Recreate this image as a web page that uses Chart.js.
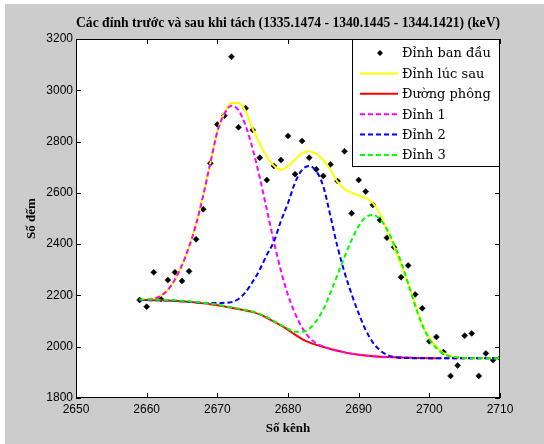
<!DOCTYPE html>
<html><head><meta charset="utf-8">
<script src="https://cdn.jsdelivr.net/npm/chart.js@4"></script>
<style>html,body{margin:0;padding:0;background:#fff;overflow:hidden}#wrap{width:544px;height:444px}</style>
</head><body><div id="wrap"><canvas id="c" width="544" height="444"></canvas></div>
<script>
const chartTitle = 'Các đỉnh trước và sau khi tách (1335.1474 - 1340.1445 - 1344.1421) (keV)';
const xAxisTitle = 'Số kênh';
const yAxisTitle = 'Số đếm';
const seriesNames = ['Đỉnh ban đầu', 'Đỉnh lúc sau', 'Đường phông', 'Đỉnh 1', 'Đỉnh 2', 'Đỉnh 3'];

const channels = [2659,2660,2661,2662,2663,2664,2665,2666,2667,2668,
  2669,2670,2671,2672,2673,2674,2675,2676,2677,2678,
  2679,2680,2681,2682,2683,2684,2685,2686,2687,2688,
  2689,2690,2691,2692,2693,2694,2695,2696,2697,2698,
  2699,2700,2701,2702,2703,2704,2705,2706,2707,2708,
  2709,2710];
const counts = [2182,2156,2290,2186,2260,2290,2256,2294,2419,2536,
  2715,2867,2901,3131,2856,2930,2845,2737,2650,2705,
  2728,2822,2673,2802,2737,2692,2666,2711,2646,2762,
  2520,2650,2605,2553,2494,2425,2388,2271,2317,2204,
  2150,2021,2038,1979,1886,1927,2043,2052,1886,1974,
  1948,1955];
const totalFit = [2182,2184,2188,2200,2222,2260,2320,2390,2478,2590,
  2715,2840,2912,2950,2950,2918,2850,2792,2742,2706,
  2690,2704,2730,2755,2762,2752,2728,2690,2643,2615,
  2601,2590,2580,2560,2520,2455,2390,2320,2247,2165,
  2085,2035,2000,1975,1964,1959,1957,1956,1955,1955,
  1955,1955];
const bgChannels = [2659,2660,2661,2662,2663,2664,2665,2666,2667,2668,
  2669,2670,2671,2672,2673,2674,2675,2676,2677,2678,
  2679,2680,2681,2682,2683,2684,2685,2686,2687,2688,
  2689,2690,2691,2692,2693,2694,2695,2696,2697,2698,
  2699,2700,2701];
const background = [2182,2182,2181,2181,2180,2179,2177,2175,2172,2169,
  2166,2162,2157,2152,2147,2141,2135,2126,2113,2098,
  2083,2066,2047,2030,2017,2007,1999,1991,1984,1978,
  1973,1969,1966,1963,1961,1960,1959,1958,1957,1956,
  1956,1955,1955];
const peak1 = [2182,2183,2187,2198,2222,2262,2318,2390,2478,2590,
  2715,2838,2908,2940,2922,2862,2772,2660,2535,2410,
  2296,2202,2130,2074,2036,2013,2001,1992,1984,1978,
  1973,1969,1966,1963,1961,1960,1959,1958,1957,1956,
  1956,1955,1955,1955,1955,1955,1955,1955,1955,1955,
  1955,1955];
const peak2 = [2182,2182,2181,2181,2180,2179,2177,2175,2173,2171,
  2170,2170,2171,2174,2186,2213,2253,2300,2358,2410,
  2490,2560,2640,2690,2705,2685,2625,2510,2390,2290,
  2205,2130,2065,2017,1986,1968,1960,1957,1956,1955,
  1955,1955,1955,1955,1955,1955,1955,1955,1955,1955,
  1955,1955];
const peak3 = [2184,2184,2183,2183,2182,2181,2179,2177,2174,2171,
  2168,2164,2159,2154,2149,2143,2137,2128,2115,2100,
  2085,2070,2058,2058,2070,2100,2145,2210,2280,2350,
  2416,2470,2505,2514,2498,2458,2400,2330,2247,2160,
  2085,2030,1995,1972,1962,1958,1956,1955,1955,1955,
  1955,1955];
const xTicks = [2650,2660,2670,2680,2690,2700,2710];
const yTicks = [1800,2000,2200,2400,2600,2800,3000,3200];

const pts = (xs, ys) => xs.map((v, i) => ({x: v, y: ys[i]}));

const lineDs = (label, xs, ys, color, dash, order) => ({
  label, data: pts(xs, ys), borderColor: color, backgroundColor: color,
  borderWidth: 2, borderDash: dash, pointRadius: 0, showLine: true,
  cubicInterpolationMode: 'monotone', fill: false, order
});

const framePlugin = {
  id: 'frame',
  beforeDraw(chart) {
    const ctx = chart.ctx, a = chart.chartArea;
    ctx.save();
    ctx.fillStyle = '#ffffff';
    ctx.fillRect(0, 0, chart.width, chart.height);
    ctx.fillStyle = '#cccccc';
    ctx.fillRect(5, 4, chart.width - 5, chart.height - 4);
    ctx.fillStyle = '#ffffff';
    ctx.fillRect(a.left, a.top, a.right - a.left, a.bottom - a.top);
    ctx.restore();
  },
  afterDatasetsDraw(chart) {
    const ctx = chart.ctx, a = chart.chartArea, xs = chart.scales.x, ys = chart.scales.y;
    ctx.save();
    ctx.strokeStyle = '#000';
    ctx.lineWidth = 1;
    ctx.beginPath();
    xTicks.forEach(v => {
      const p = Math.round(xs.getPixelForValue(v)) + 0.5;
      ctx.moveTo(p, a.bottom); ctx.lineTo(p, a.bottom - 5);
      ctx.moveTo(p, a.top); ctx.lineTo(p, a.top + 5);
    });
    yTicks.forEach(v => {
      const p = Math.round(ys.getPixelForValue(v)) + 0.5;
      ctx.moveTo(a.left, p); ctx.lineTo(a.left + 5, p);
      ctx.moveTo(a.right, p); ctx.lineTo(a.right - 5, p);
    });
    ctx.stroke();
    ctx.strokeRect(a.left + 0.5, a.top + 0.5, a.right - a.left - 1, a.bottom - a.top - 1);

    // legend
    const lx = 352, ly = a.top, lw = a.right - lx, lh = 128;
    ctx.fillStyle = '#fff';
    ctx.fillRect(lx, ly, lw, lh);
    ctx.strokeRect(lx + 0.5, ly + 0.5, lw - 1, lh - 1);
    ctx.font = '13px "DejaVu Serif"';
    ctx.textBaseline = 'middle';
    ctx.textAlign = 'left';
    chart.data.datasets.forEach((ds, i) => {
      const y = ly + 14 + i * 20.4;
      if (ds.showLine === false) {
        ctx.fillStyle = '#000';
        ctx.beginPath();
        ctx.moveTo(380, y - 3); ctx.lineTo(383, y); ctx.lineTo(380, y + 3); ctx.lineTo(377, y);
        ctx.closePath(); ctx.fill();
      } else {
        ctx.strokeStyle = ds.borderColor;
        ctx.lineWidth = 2;
        ctx.setLineDash(ds.borderDash || []);
        ctx.beginPath(); ctx.moveTo(360, y); ctx.lineTo(398, y); ctx.stroke();
        ctx.setLineDash([]);
      }
      ctx.fillStyle = '#000';
      ctx.fillText(ds.label, 402, y + 1);
    });
    ctx.restore();
  }
};

new Chart(document.getElementById('c'), {
  type: 'scatter',
  data: {
    datasets: [
      {label: seriesNames[0], data: pts(channels, counts), showLine: false,
       pointStyle: 'rectRot', pointRadius: 3, pointBackgroundColor: '#000',
       pointBorderColor: '#000', pointBorderWidth: 0.5, order: 6},
      lineDs(seriesNames[1], channels, totalFit, '#ffff00', [], 5),
      lineDs(seriesNames[2], bgChannels, background, '#ff0000', [], 4),
      lineDs(seriesNames[3], channels, peak1, '#ff00ff', [5, 3], 3),
      lineDs(seriesNames[4], channels, peak2, '#0000ff', [5, 3], 2),
      lineDs(seriesNames[5], channels, peak3, '#00ff00', [5, 3], 1)
    ]
  },
  plugins: [framePlugin],
  options: {
    responsive: false,
    animation: false,
    events: [],
    layout: {padding: {left: 0, right: 44, top: 0, bottom: 0}},
    plugins: {
      legend: {display: false},
      tooltip: {enabled: false},
      title: {
        display: true, text: chartTitle, fullSize: false, color: '#000',
        font: {family: '"Liberation Serif"', size: 15, weight: 'bold'},
        padding: {top: 14, bottom: 7}
      }
    },
    scales: {
      x: {
        type: 'linear', min: xTicks[0], max: xTicks[xTicks.length - 1],
        grid: {display: false, drawTicks: false}, border: {display: false},
        ticks: {padding: 4, color: '#000', font: {family: '"Liberation Sans"', size: 12},
          callback: v => String(v)},
        afterBuildTicks: s => { s.ticks = xTicks.map(v => ({value: v})); },
        afterFit: s => { s.height = 46; s.paddingLeft = 0; s.paddingRight = 0; },
        title: {display: true, text: xAxisTitle, color: '#000',
          font: {family: '"Liberation Serif"', size: 13, weight: 'bold'},
          padding: {top: 0, bottom: 8}}
      },
      y: {
        type: 'linear', min: yTicks[0], max: yTicks[yTicks.length - 1],
        grid: {display: false, drawTicks: false}, border: {display: false},
        ticks: {padding: 3, color: '#000', font: {family: '"Liberation Sans"', size: 12},
          callback: v => String(v)},
        afterBuildTicks: s => { s.ticks = yTicks.map(v => ({value: v})); },
        afterFit: s => { s.width = 76; s.paddingTop = 0; s.paddingBottom = 0; },
        title: {display: true, text: yAxisTitle, color: '#000',
          font: {family: '"Liberation Serif"', size: 13, weight: 'bold'},
          padding: {top: 24, bottom: 0}}
      }
    }
  }
});
</script>
</body></html>
